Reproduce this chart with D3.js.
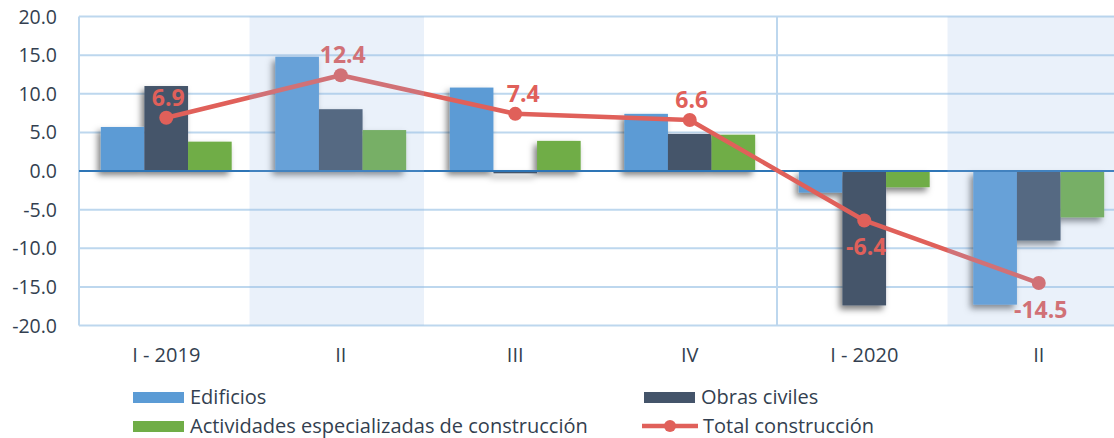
<!DOCTYPE html>
<html>
<head>
<meta charset="utf-8">
<script src="https://cdn.jsdelivr.net/npm/d3@7"></script>
<style>
  body { margin: 0; background: #fff; }
  text { font-family: "Open Sans", "Noto Sans", sans-serif; }
</style>
</head>
<body>
<script>
// quarters + series
var quarters = ["I - 2019", "II", "III", "IV", "I - 2020", "II"];
var seriesNames = ["Edificios", "Obras civiles", "Actividades especializadas de construcción"];
var edificios = [5.7, 14.8, 10.8, 7.4, -2.8, -17.3];
var obrasCiviles = [11.0, 8.0, -0.3, 4.8, -17.4, -9.0];
var actividades = [3.8, 5.3, 3.9, 4.7, -2.1, -6.0];
var totalConstruccion = [6.9, 12.4, 7.4, 6.6, -6.4, -14.5];
var totalName = "Total construcción";
var yTicks = [20, 15, 10, 5, 0, -5, -10, -15, -20];
var shadedQuarters = [1, 5];   // light bands
var dividerAfter = [3];        // vertical line between IV and I - 2020

var colors = ["#5B9BD5", "#44546A", "#70AD47"];
var lineColor = "#E0605A";

var W = 1114, H = 438;
var x0 = 79, step = 174.5;

// hyphen instead of unicode minus, like the original
var fmt = function(d) { return d3.format(".1f")(d).replace("\u2212", "-"); };

var svg = d3.select("body").append("svg").attr("width", W).attr("height", H);

var defs = svg.append("defs");
var f = defs.append("filter").attr("id", "shadow")
  .attr("x", "-30%").attr("y", "-30%").attr("width", "160%").attr("height", "160%");
f.append("feDropShadow").attr("dx", -3).attr("dy", 4).attr("stdDeviation", 3)
  .attr("flood-color", "#000").attr("flood-opacity", 0.5);

var x = d3.scaleBand().domain(d3.range(quarters.length))
  .range([x0, x0 + step * quarters.length]).paddingInner(0).paddingOuter(0);
var xs = d3.scaleBand().domain(d3.range(3)).range([0, x.bandwidth()]).paddingInner(0).paddingOuter(0.5);
var y = d3.scaleLinear().domain([-20, 20]).range([325.5, 16.5]);

// grid
svg.append("g").selectAll("line").data(yTicks.filter(function(d) { return d != 0; }))
  .enter().append("line")
  .attr("x1", x0).attr("x2", W)
  .attr("y1", function(d) { return y(d); }).attr("y2", function(d) { return y(d); })
  .attr("stroke", "#BDD7EE").attr("stroke-width", 2);

svg.append("line").attr("x1", x0).attr("x2", x0).attr("y1", y(20)).attr("y2", y(-20))
  .attr("stroke", "#BDD7EE").attr("stroke-width", 2);

svg.append("g").selectAll("line").data(dividerAfter).enter().append("line")
  .attr("x1", function(d) { return x(d) + x.bandwidth(); })
  .attr("x2", function(d) { return x(d) + x.bandwidth(); })
  .attr("y1", y(20)).attr("y2", y(-20))
  .attr("stroke", "#BDD7EE").attr("stroke-width", 2);

// y labels
svg.append("g").selectAll("text").data(yTicks).enter().append("text")
  .attr("x", 57).attr("y", function(d) { return y(d); }).attr("dy", "0.36em")
  .attr("text-anchor", "end").attr("font-size", 19.5).attr("fill", "#333F50")
  .text(fmt);

// bars
var allSeries = [edificios, obrasCiviles, actividades];
var barG = svg.append("g").attr("filter", "url(#shadow)");
allSeries.forEach(function(vals, s) {
  barG.selectAll(".b" + s).data(vals).enter().append("rect")
    .attr("x", function(d, i) { return x(i) + xs(s); })
    .attr("width", xs.bandwidth())
    .attr("y", function(d) { return y(Math.max(0, d)); })
    .attr("height", function(d) { return Math.abs(y(d) - y(0)); })
    .attr("fill", colors[s]);
});

// zero line
svg.append("line").attr("x1", x0).attr("x2", W).attr("y1", y(0)).attr("y2", y(0))
  .attr("stroke", "#2E75B6").attr("stroke-width", 2);

// total line
var cx = function(i) { return x(i) + x.bandwidth() / 2; };
var line = d3.line().x(function(d, i) { return cx(i); }).y(function(d) { return y(d); });
svg.append("path").datum(totalConstruccion).attr("d", line)
  .attr("fill", "none").attr("stroke", lineColor).attr("stroke-width", 4.5)
  .attr("stroke-linejoin", "round");
svg.append("g").selectAll("circle").data(totalConstruccion).enter().append("circle")
  .attr("cx", function(d, i) { return cx(i); }).attr("cy", function(d) { return y(d); })
  .attr("r", 7).attr("fill", lineColor);

svg.append("g").selectAll("text").data(totalConstruccion).enter().append("text")
  .attr("x", function(d, i) { return cx(i) + (i == 2 ? 8 : (i == 3 ? 2 : 2)); })
  .attr("y", function(d) { return d >= 0 ? y(d) - 12 : y(d) + 35; })
  .attr("text-anchor", "middle").attr("font-size", 23).attr("font-weight", "bold")
  .attr("fill", lineColor)
  .text(fmt);

// shaded quarters, drawn over everything
svg.append("g").selectAll("rect").data(shadedQuarters).enter().append("rect")
  .attr("x", function(d) { return x(d) - 4; }).attr("width", x.bandwidth())
  .attr("y", y(20)).attr("height", y(-20) - y(20))
  .attr("fill", "rgb(150,185,228)").attr("opacity", 0.2);

// x labels
svg.append("g").selectAll("text").data(quarters).enter().append("text")
  .attr("x", function(d, i) { return cx(i); }).attr("y", 362)
  .attr("text-anchor", "middle").attr("font-size", 20).attr("fill", "#333F50")
  .text(function(d) { return d; });

// legend
var legend = [
  { name: seriesNames[0], color: colors[0], lx: 133, ly: 397, type: "bar" },
  { name: seriesNames[1], color: colors[1], lx: 644, ly: 397, type: "bar" },
  { name: seriesNames[2], color: colors[2], lx: 133, ly: 426, type: "bar" },
  { name: totalName, color: lineColor, lx: 642, ly: 426, type: "line" }
];
var lg = svg.append("g").selectAll("g").data(legend).enter().append("g");
lg.filter(function(d) { return d.type == "bar"; }).append("rect")
  .attr("x", function(d) { return d.lx; }).attr("y", function(d) { return d.ly - 5; })
  .attr("width", 51).attr("height", 11).attr("fill", function(d) { return d.color; });
lg.filter(function(d) { return d.type == "line"; }).append("line")
  .attr("x1", function(d) { return d.lx; }).attr("x2", function(d) { return d.lx + 56; })
  .attr("y1", function(d) { return d.ly; }).attr("y2", function(d) { return d.ly; })
  .attr("stroke", function(d) { return d.color; }).attr("stroke-width", 4.5);
lg.filter(function(d) { return d.type == "line"; }).append("circle")
  .attr("cx", function(d) { return d.lx + 28; }).attr("cy", function(d) { return d.ly; })
  .attr("r", 6).attr("fill", function(d) { return d.color; });
lg.append("text")
  .attr("x", function(d) { return d.type == "bar" ? d.lx + 57 : d.lx + 61; })
  .attr("y", function(d) { return d.ly; }).attr("dy", "0.36em")
  .attr("font-size", 20).attr("fill", "#333F50")
  .text(function(d) { return d.name; });
</script>
</body>
</html>
